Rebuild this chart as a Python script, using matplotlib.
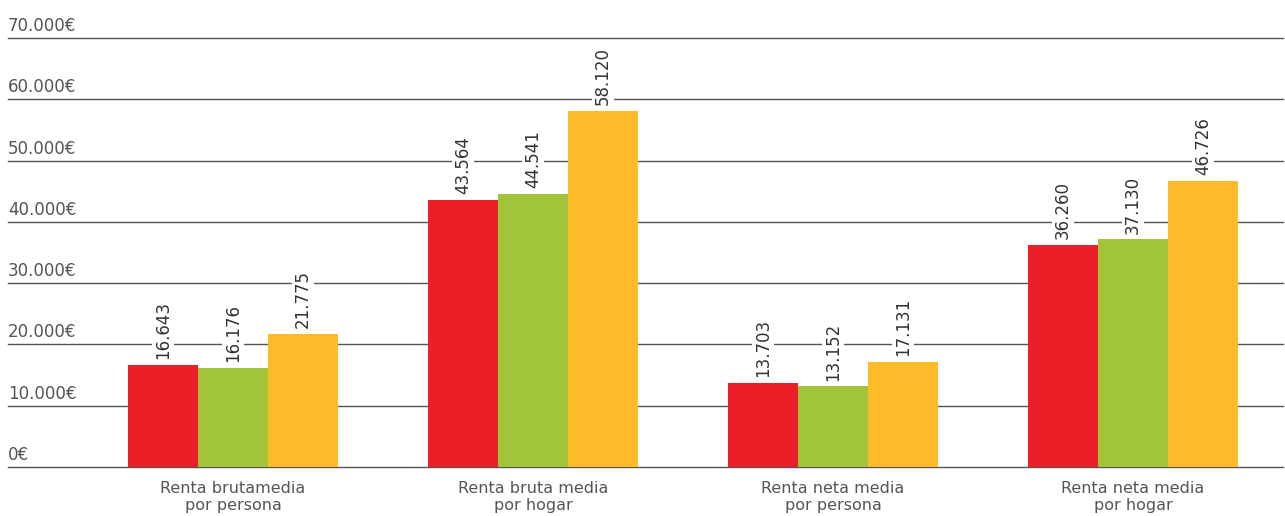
import numpy as np
import matplotlib
matplotlib.use("Agg")
from matplotlib import pyplot as plt

categories = ["Renta brutamedia\npor persona", "Renta bruta media\npor hogar",
              "Renta neta media\npor persona", "Renta neta media\npor hogar"]
serie_roja = [16643, 43564, 13703, 36260]
serie_verde = [16176, 44541, 13152, 37130]
serie_naranja = [21775, 58120, 17131, 46726]
y_ticks = [0, 10000, 20000, 30000, 40000, 50000, 60000, 70000]

colors = ["#ec1f28", "#a1c43a", "#fdbb29"]
series = [serie_roja, serie_verde, serie_naranja]

fig = plt.figure(figsize=(12.85, 5.16), dpi=100)
ax = fig.add_axes([8 / 1285, 49 / 516, 1275 / 1285, 429 / 516])

x = np.arange(len(categories))
w = 0.2333
for i, (vals, c) in enumerate(zip(series, colors)):
    pos = x + (i - 1) * w
    ax.bar(pos, vals, width=w, color=c, zorder=3)
    for p, v in zip(pos, vals):
        lbl = f"{v:,}".replace(",", ".")
        ax.annotate(lbl, (p, v), xytext=(0, 4), textcoords="offset points",
                    rotation=90, ha="center", va="bottom", fontsize=12,
                    color="#333333", zorder=4,
                    bbox=dict(facecolor="white", edgecolor="none", pad=1.5))

ax.set_xlim(-0.75, 3.5)
ax.set_ylim(0, 70000)

for t in y_ticks:
    ax.axhline(t, color="#555555", lw=1, zorder=1, clip_on=False)
    lbl = f"{t:,}".replace(",", ".") + "€"
    ax.text(0, t + 500, lbl, transform=ax.get_yaxis_transform(), ha="left",
            va="bottom", fontsize=12, color="#555555")

ax.set_yticks([])
ax.set_xticks(x)
ax.set_xticklabels(categories, fontsize=11.5, color="#555555", linespacing=1.2)
ax.tick_params(axis="x", length=0, pad=10)
for s in ax.spines.values():
    s.set_visible(False)

fig.savefig("out.png", dpi=100)
